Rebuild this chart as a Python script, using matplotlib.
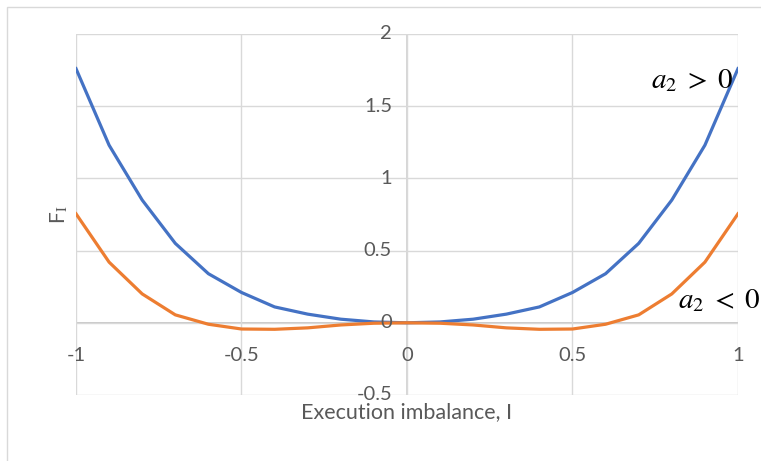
import matplotlib.pyplot as plt
from matplotlib.patches import Rectangle

imbalance = [-1.0, -0.9, -0.8, -0.7, -0.6, -0.5, -0.4, -0.3, -0.2, -0.1, 0.0,
             0.1, 0.2, 0.3, 0.4, 0.5, 0.6, 0.7, 0.8, 0.9, 1.0]
f_pos = [1.76, 1.23, 0.85, 0.55, 0.34, 0.21, 0.11, 0.06, 0.025, 0.006, 0.0,
         0.006, 0.025, 0.06, 0.11, 0.21, 0.34, 0.55, 0.85, 1.23, 1.76]
f_neg = [0.755, 0.42, 0.2, 0.055, -0.01, -0.043, -0.045, -0.035, -0.015, -0.003, 0.0,
         -0.003, -0.015, -0.035, -0.045, -0.043, -0.01, 0.055, 0.2, 0.42, 0.755]
xticks = [-1, -0.5, 0, 0.5, 1]
yticks = [-0.5, 0, 0.5, 1, 1.5, 2]

plt.rcParams['font.family'] = ['Lato', 'DejaVu Sans']
plt.rcParams['mathtext.fontset'] = 'stix'
grey = '#595959'
grid = '#d9d9d9'

fig = plt.figure(figsize=(7.61, 4.61), dpi=100)
fig.patches.append(Rectangle((7 / 761, -0.1), 1.2, 1 - 7 / 461 + 0.1, transform=fig.transFigure,
                             fill=False, edgecolor=grid, linewidth=1))
ax = fig.add_axes([76 / 761, 1 - 395 / 461, (738 - 76) / 761, (395 - 34) / 461])

ax.plot(imbalance, f_pos, color='#4472C4', linewidth=2.3, solid_joinstyle='round', zorder=3)
ax.plot(imbalance, f_neg, color='#ED7D31', linewidth=2.3, solid_joinstyle='round', zorder=3)

ax.set_xlim(-1, 1)
ax.set_ylim(-0.5, 2)
ax.set_xticks(xticks)
ax.set_yticks(yticks)
ax.grid(True, color=grid, linewidth=1, zorder=0)
for s in ax.spines.values():
    s.set_visible(False)
ax.axhline(0, color='#bfbfbf', linewidth=1.2, zorder=1)
ax.axvline(0, color='#d0d0d0', linewidth=1.2, zorder=1)
ax.tick_params(length=0, labelbottom=False, labelleft=False)

# Excel style labels sitting on the zero axes
for x in xticks:
    ax.text(x, -0.225, f"{x:g}", ha='center', va='center', fontsize=14.5, color=grey)
for y in yticks:
    ax.text(-0.045, y, f"{y:g}", ha='right', va='center', fontsize=14.5, color=grey)

ax.set_xlabel("Execution imbalance, I", fontsize=15.5, color=grey, labelpad=5)
ax.set_ylabel(r"F$_{\mathrm{I}}$", fontsize=15, color=grey, labelpad=4)

ax.text(0.985, 1.68, r"$a_2\;>\;0$", fontsize=21, ha='right', va='center', color='black')
ax.text(0.82, 0.155, r"$a_2\;<\;0$", fontsize=21, ha='left', va='center', color='black', clip_on=False)

fig.savefig("out.png", dpi=100)
